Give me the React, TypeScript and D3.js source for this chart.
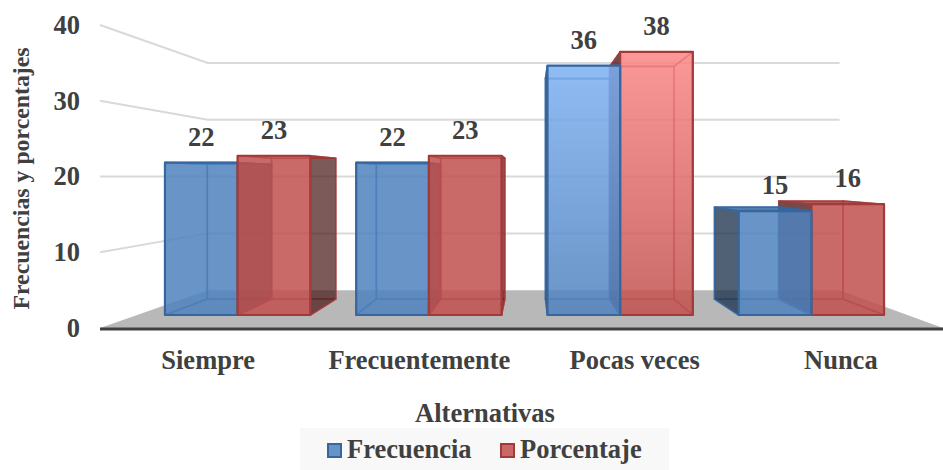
import React from "react";
import * as d3 from "d3";

const categories = ["Siempre", "Frecuentemente", "Pocas veces", "Nunca"];
const seriesNames = ["Frecuencia", "Porcentaje"];
const frecuencia = [22, 22, 36, 15];
const porcentaje = [23, 23, 38, 16];
const yTicks = [0, 10, 20, 30, 40];

const W = 943, H = 470;
const VX = 530, VY = 177;
const S_OUT = 1.094, S_WALL = 0.82, S_BACK = 0.884;
const FONT = "'Liberation Serif','Times New Roman',serif";
const TXT = "#404040";

const x0 = d3.scaleBand<string>().domain(categories).range([142, 907]).paddingInner(0.24).paddingOuter(0.12);
const x1 = d3.scaleBand<string>().domain(seriesNames).range([0, x0.bandwidth()]);
const y = d3.scaleLinear().domain([0, 40]).range([315, 38]);

const px = (x: number, s: number) => VX + (x - VX) * s;
const py = (v: number, s: number) => VY + (y(v) - VY) * s;
const pts = (a: number[][]) => a.map((p) => p.join(",")).join(" ");

const fills = ["#4F81BD", "#C0504D"];
const lights = ["#80B2F4", "#FB8686"];
const strokes = ["#35669F", "#A33A3A"];
const darks = ["#1F3550", "#4A1A1A"];
const GLOW_CATEGORY = "Pocas veces";

function Bar({ cat, si, v }: { cat: string; si: number; v: number }) {
  const xl = (x0(cat) as number) + (x1(seriesNames[si]) as number);
  const xr = xl + x1.bandwidth();
  const bl = px(xl, S_BACK), br = px(xr, S_BACK);
  const ft = y(v), fb = y(0), bt = py(v, S_BACK), bb = py(0, S_BACK);
  const stroke = strokes[si];
  const dark = darks[si];
  const glow = cat === GLOW_CATEGORY;
  const front = glow ? `url(#glow${si})` : fills[si];
  const edge = { stroke, strokeWidth: 1.6, strokeOpacity: 0.8 };
  return (
    <g strokeLinejoin="round">
      {/* back and floor edges */}
      <polygon points={pts([[bl, bt], [br, bt], [br, bb], [bl, bb]])} fill="none" {...edge} strokeOpacity={0.6} />
      <polygon points={pts([[xl, fb], [xr, fb], [br, bb], [bl, bb]])} fill="none" {...edge} strokeOpacity={0.6} />
      {/* side faces, dark if seen from outside */}
      <polygon points={pts([[xl, ft], [bl, bt], [bl, bb], [xl, fb]])} fill={bl < xl ? dark : "none"} fillOpacity={0.78} {...edge} />
      <polygon points={pts([[xr, ft], [br, bt], [br, bb], [xr, fb]])} fill={br > xr ? dark : "none"} fillOpacity={0.72} {...edge} />
      {/* top face, dark if seen from above */}
      <polygon points={pts([[xl, ft], [xr, ft], [br, bt], [bl, bt]])} fill={bt < ft ? stroke : "none"} fillOpacity={0.85} {...edge} />
      {/* front */}
      <polygon points={pts([[xl, ft], [xr, ft], [xr, fb], [xl, fb]])} fill={front} fillOpacity={0.85} stroke={stroke} strokeWidth={2.2} />
    </g>
  );
}

export default function App() {
  const order: { cat: string; si: number; v: number; d: number }[] = [];
  categories.forEach((cat, i) => {
    const g = [frecuencia[i], porcentaje[i]].map((v, si) => {
      const c = (x0(cat) as number) + (x1(seriesNames[si]) as number) + x1.bandwidth() / 2;
      return { cat, si, v, d: Math.abs(c - VX) };
    });
    g.sort((a, b) => b.d - a.d);
    order.push(...g);
  });
  const L = 137, R = 907.5;
  return (
    <svg width={W} height={H} viewBox={`0 0 ${W} ${H}`} style={{ position: "absolute", left: 0, top: 0, background: "#fff" }} fontFamily={FONT}>
      <defs>
        {fills.map((f, i) => (
          <linearGradient key={i} id={`glow${i}`} gradientUnits="userSpaceOnUse" x1="0" x2="0" y1={50} y2={315}>
            <stop offset="0" stopColor={lights[i]} />
            <stop offset="1" stopColor={f} />
          </linearGradient>
        ))}
      </defs>
      {/* floor */}
      <polygon points={pts([[px(L, S_OUT), py(0, S_OUT)], [px(L, S_WALL), py(0, S_WALL)], [px(R, S_WALL), py(0, S_WALL)], [px(R, S_OUT), py(0, S_OUT)]])} fill="#B8B8B8" />
      {/* gridlines */}
      {yTicks.filter((t) => t > 0).map((t) => (
        <g key={t} stroke="#D9D9D9" strokeWidth={2} fill="none">
          <polyline points={pts([[px(L, S_OUT), py(t, S_OUT)], [px(L, S_WALL), py(t, S_WALL)], [px(R, S_WALL), py(t, S_WALL)]])} />
        </g>
      ))}
      {/* axis line */}
      <line x1={100} x2={W} y1={329} y2={329} stroke="#404040" strokeWidth={3} />
      {/* bars */}
      {order.map((b) => (
        <Bar key={b.cat + b.si} cat={b.cat} si={b.si} v={b.v} />
      ))}
      {/* value labels */}
      <g fontWeight="bold" fontSize={26.5} fill={TXT} textAnchor="middle">
        {order.map((b) => (
          <text key={b.cat + b.si} x={(x0(b.cat) as number) + (x1(seriesNames[b.si]) as number) + x1.bandwidth() / 2} y={y(b.v) - 17}>
            {b.v}
          </text>
        ))}
      </g>
      {/* y ticks */}
      <g fontWeight="bold" fontSize={26.5} fill={TXT} textAnchor="end">
        {yTicks.map((t) => (
          <text key={t} x={80} y={py(t, S_OUT) + 9}>
            {t}
          </text>
        ))}
      </g>
      {/* categories */}
      <g fontWeight="bold" fontSize={26.5} fill={TXT} textAnchor="middle">
        {categories.map((c, i) => (
          <text key={c} x={px((x0(c) as number) + x0.bandwidth() / 2, S_OUT) + [-2, 0, 6, 3][i]} y={369}>
            {c}
          </text>
        ))}
      </g>
      <text transform="translate(29,178.5) rotate(-90)" textAnchor="middle" fontWeight="bold" fontSize={23.8} fill={TXT}>
        Frecuencias y porcentajes
      </text>
      <text x={485} y={422} textAnchor="middle" fontWeight="bold" fontSize={26.5} fill={TXT}>
        Alternativas
      </text>
      {/* legend */}
      <rect x={300} y={428} width={369} height={42} fill="#F8F8F8" />
      {seriesNames.map((n, i) => {
        const lx = [328, 501][i];
        return (
          <g key={n}>
            <rect x={lx} y={444} width={13} height={13} fill={fills[i]} fillOpacity={0.85} stroke={strokes[i]} strokeWidth={2} />
            <text x={lx + 19} y={458} fontWeight="bold" fontSize={26.5} fill={TXT}>
              {n}
            </text>
          </g>
        );
      })}
    </svg>
  );
}
